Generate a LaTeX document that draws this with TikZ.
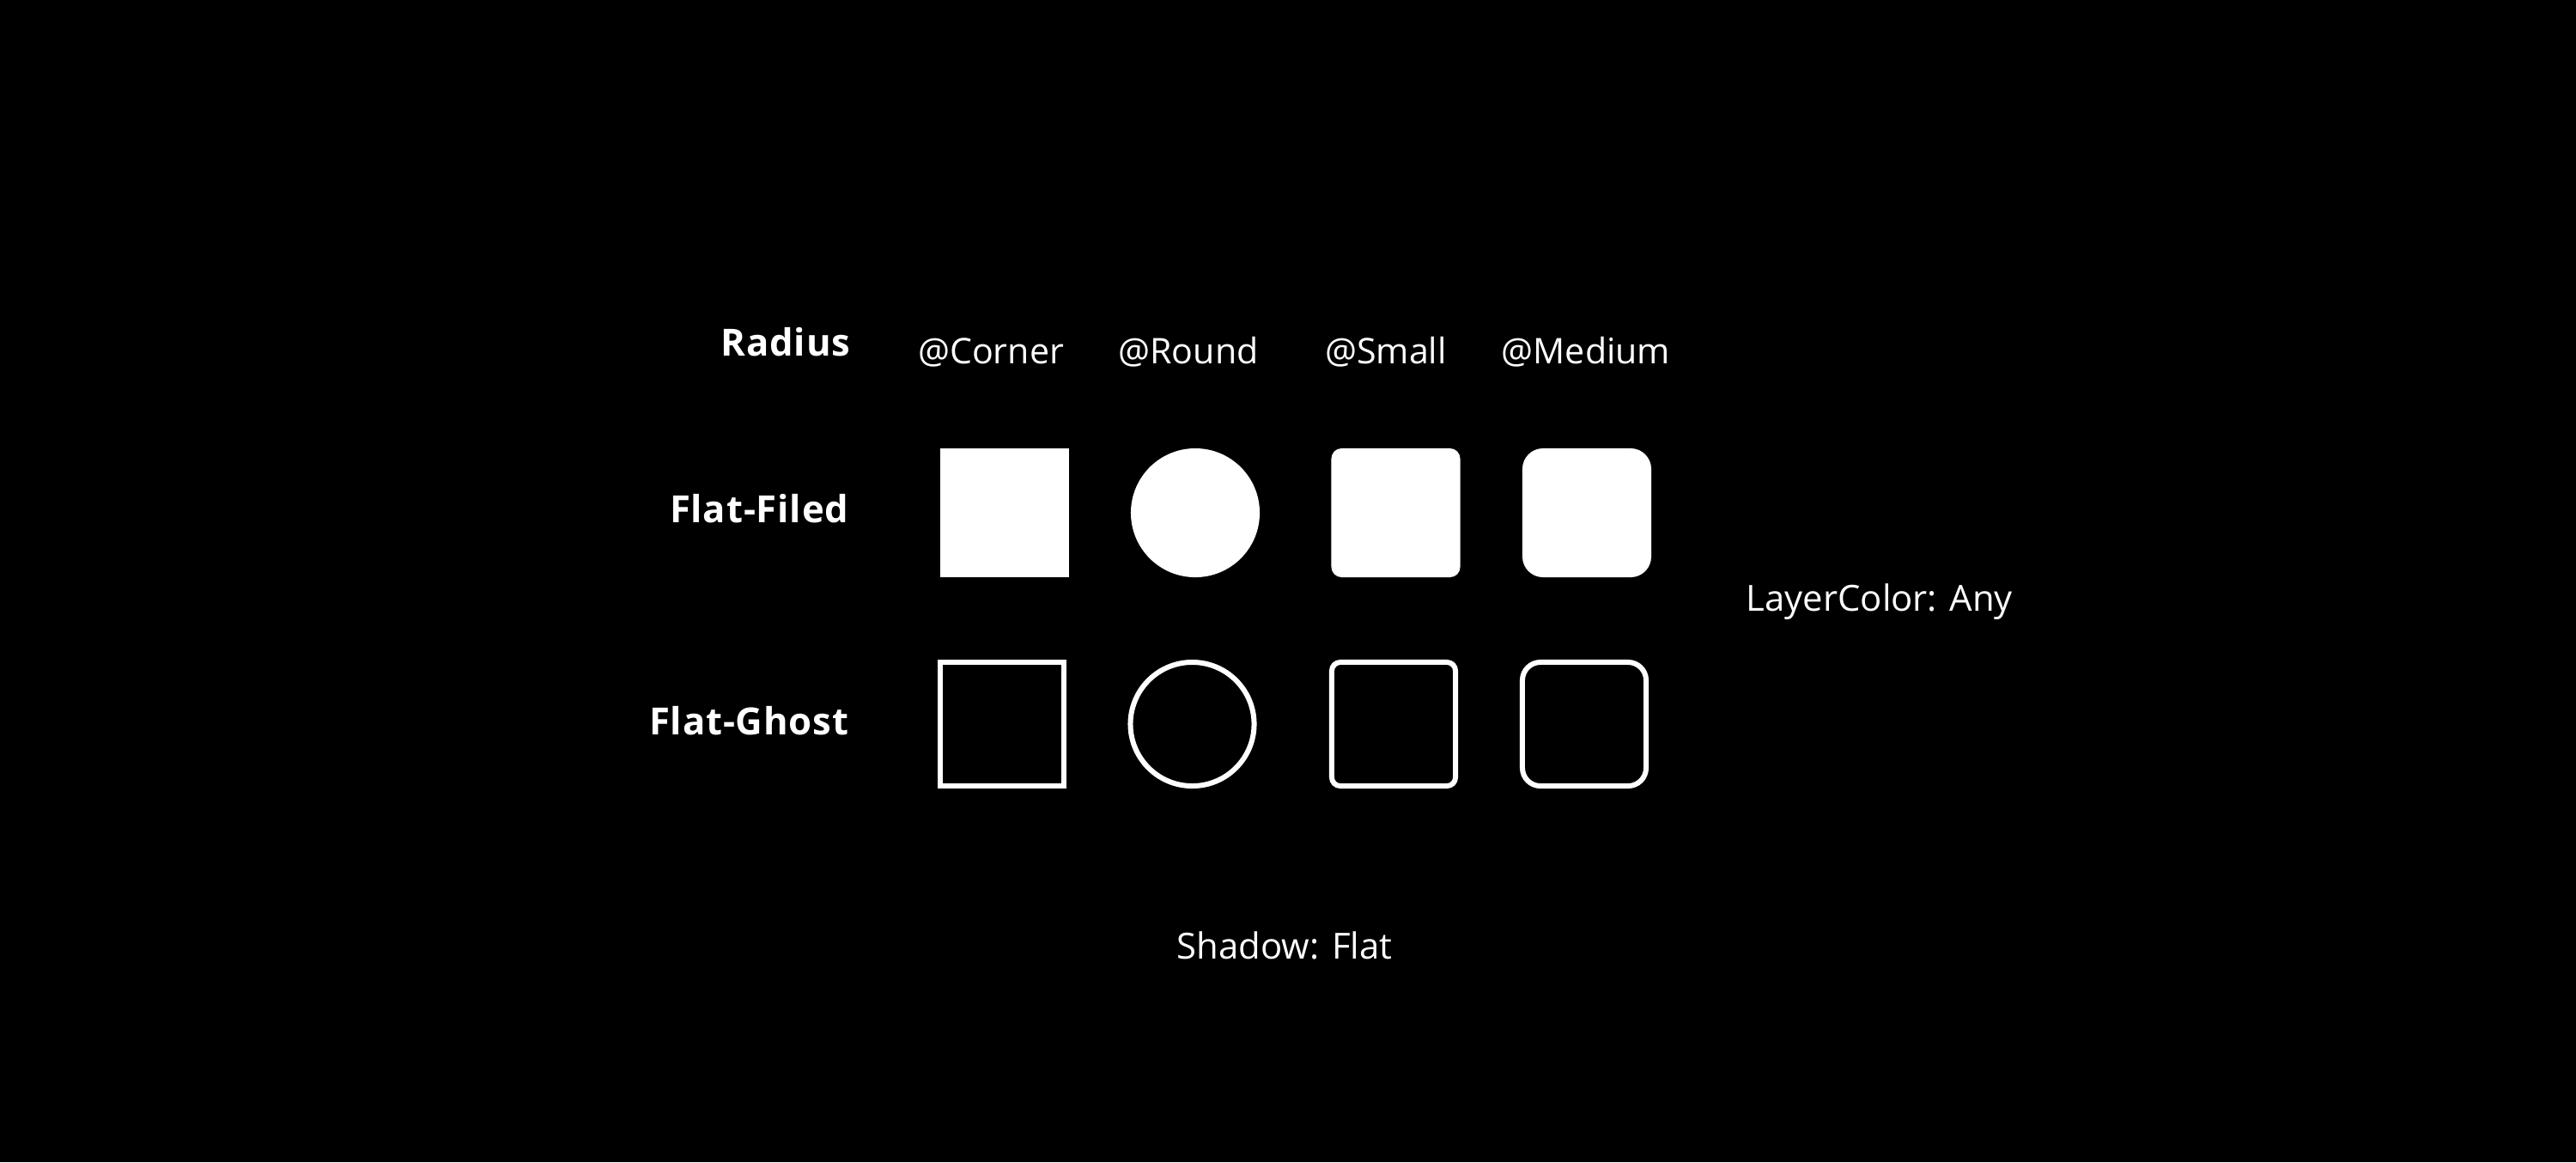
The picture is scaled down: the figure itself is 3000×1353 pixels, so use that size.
\documentclass[tikz,border=0pt]{standalone}
\usepackage{fontspec}
\setmainfont{Open Sans}
\newfontfamily\lblfont[LetterSpace=2]{Open Sans}
\begin{document}
\begin{tikzpicture}[x=0.01cm,y=-0.01cm,
  lbl/.style={text=white,font=\lblfont\fontsize{12.4pt}{14pt}\selectfont\bfseries,anchor=base east,inner sep=0pt},
  col/.style={text=white,font=\fontsize{11.7pt}{14pt}\selectfont,anchor=base,inner sep=0pt},
  note/.style={text=white,font=\fontsize{11.9pt}{14pt}\selectfont,inner sep=0pt},
  fillsq/.style={rectangle,fill=white,draw=none,minimum size=1.5cm,inner sep=0pt},
  fillcirc/.style={circle,fill=white,draw=none,minimum size=1.5cm,inner sep=0pt},
  ghostsq/.style={rectangle,draw=white,line width=0.06cm,minimum size=1.44cm,inner sep=0pt},
  ghostcirc/.style={circle,draw=white,line width=0.06cm,minimum size=1.44cm,inner sep=0pt}]
\fill[black] (0,0) rectangle (3000,1353);
\useasboundingbox (0,0) rectangle (3000,1353);
% row labels
\node[lbl] (radius) at (991,414) {Radius};
\node[lbl] (filed) at (989,608) {Flat-Filed};
\node[lbl] (ghost) at (989,855) {Flat-Ghost};
% column labels
\node[col] (c1) at (1154,423) {@Corner};
\node[col] (c2) at (1384,423) {@Round};
\node[col] (c3) at (1614,423) {@Small};
\node[col] (c4) at (1847,423) {@Medium};
% filled
\node[fillsq] (f1) at (1170,597) {};
\node[fillcirc] (f2) at (1392,597) {};
\node[fillsq,rounded corners=0.12cm] (f3) at (1625.5,597) {};
\node[fillsq,rounded corners=0.24cm] (f4) at (1848,597) {};
% ghost
\node[ghostsq] (g1) at (1167,843) {};
\node[ghostcirc] (g2) at (1388.5,843) {};
\node[ghostsq,rounded corners=0.10cm] (g3) at (1623,843) {};
\node[ghostsq,rounded corners=0.21cm] (g4) at (1845,843) {};
% notes
\node[note,anchor=base west] (layer) at (2033,711) {LayerColor: Any};
\node[note,anchor=base] (shadow) at (1496,1116) {Shadow: Flat};
\end{tikzpicture}
\end{document}
